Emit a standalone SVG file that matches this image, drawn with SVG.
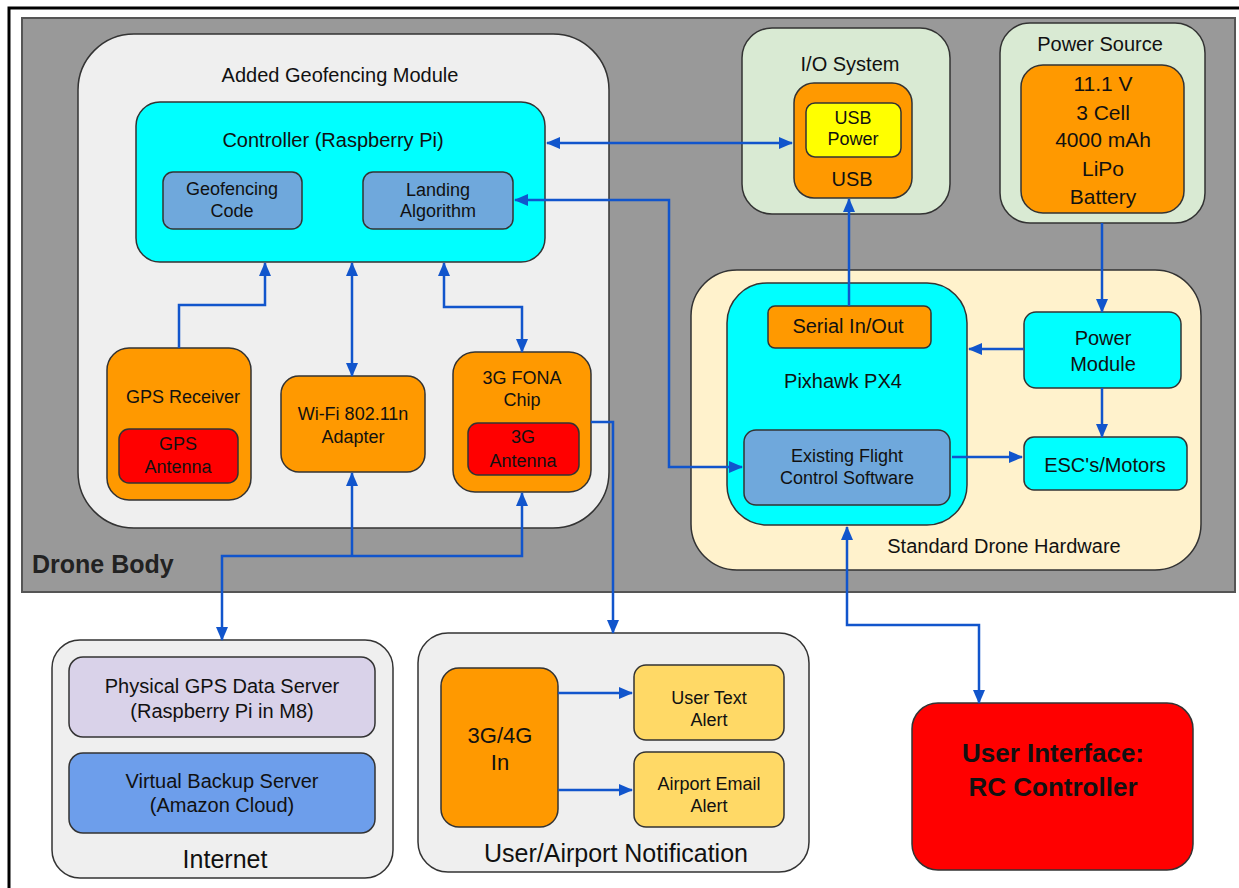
<svg xmlns="http://www.w3.org/2000/svg" width="1239" height="888" viewBox="0 0 1239 888">
<defs>
<marker id="arr" markerUnits="userSpaceOnUse" markerWidth="14" markerHeight="12" viewBox="0 0 14 12" refX="13" refY="6" orient="auto-start-reverse">
<path d="M0,0 L14,6 L0,12 z" fill="#1155cc"/>
</marker>
<style>
text{font-family:"Liberation Sans",Arial,sans-serif;fill:#111;text-anchor:middle;dominant-baseline:central}
.n{stroke:#333;stroke-width:1.5}
.t20{font-size:20px}
.t18{font-size:18px}
.t21{font-size:21px}
.big{font-size:25px}
.c{fill:none;stroke:#1155cc;stroke-width:2.5}
.gray{fill:#efefef}
.cyan{fill:#00ffff}
.blue{fill:#6fa8dc}
.orange{fill:#ff9900}
.red{fill:#ff0000}
</style>
</defs>
<rect x="0" y="0" width="1239" height="888" fill="#ffffff"/>
<rect x="9" y="8" width="1240" height="890" fill="none" stroke="#000" stroke-width="3"/>

<g id="drone-body">
<rect x="22" y="18" width="1213" height="574" fill="#999999" stroke="#555" stroke-width="2"/>
<text x="32" y="564" style="font-size:25px;font-weight:bold;text-anchor:start;fill:#222">Drone Body</text>
</g>

<g id="geofencing-module">
<rect x="78" y="34" width="531" height="494" rx="56" class="n gray"/>
<text x="340" y="75" class="t20">Added Geofencing Module</text>
</g>

<g id="controller">
<rect x="136" y="102" width="409" height="160" rx="24" class="n cyan"/>
<text x="333" y="140" class="t20">Controller (Raspberry Pi)</text>
</g>

<g id="geofencing-code">
<rect x="163" y="172" width="139" height="57" rx="10" class="n blue"/>
<text x="232" y="189" class="t18">Geofencing</text>
<text x="232" y="211" class="t18">Code</text>
</g>

<g id="landing-algorithm">
<rect x="363" y="172" width="150" height="57" rx="10" class="n blue"/>
<text x="438" y="190" class="t18">Landing</text>
<text x="438" y="211" class="t18">Algorithm</text>
</g>

<g id="gps-receiver">
<rect x="107" y="348" width="144" height="152" rx="22" class="n orange"/>
<text x="183" y="397" class="t18">GPS Receiver</text>
</g>
<g id="gps-antenna">
<rect x="119" y="429" width="119" height="54" rx="10" class="n red"/>
<text x="178" y="444" class="t18">GPS</text>
<text x="178" y="467" class="t18">Antenna</text>
</g>

<g id="wifi-adapter">
<rect x="281" y="376" width="144" height="96" rx="18" class="n orange"/>
<text x="353" y="414" class="t18">Wi-Fi 802.11n</text>
<text x="353" y="437" class="t18">Adapter</text>
</g>

<g id="fona-chip">
<rect x="453" y="352" width="138" height="140" rx="22" class="n orange"/>
<text x="522" y="378" class="t18">3G FONA</text>
<text x="522" y="400" class="t18">Chip</text>
</g>
<g id="3g-antenna">
<rect x="468" y="423" width="111" height="52" rx="10" class="n red"/>
<text x="523" y="437" class="t18">3G</text>
<text x="523" y="461" class="t18">Antenna</text>
</g>

<g id="io-system">
<rect x="742" y="28" width="208" height="186" rx="30" class="n" fill="#d9ead3"/>
<text x="850" y="64" class="t20">I/O System</text>
</g>
<g id="usb">
<rect x="794" y="83" width="118" height="115" rx="20" class="n orange"/>
<text x="852" y="179" class="t20">USB</text>
</g>
<g id="usb-power">
<rect x="806" y="103" width="95" height="54" rx="9" class="n" fill="#ffff00"/>
<text x="853" y="118" class="t18">USB</text>
<text x="853" y="139" class="t18">Power</text>
</g>

<g id="power-source">
<rect x="1000" y="23" width="205" height="200" rx="30" class="n" fill="#d9ead3"/>
<text x="1100" y="44" class="t20">Power Source</text>
</g>
<g id="battery">
<rect x="1021" y="65" width="163" height="148" rx="22" class="n orange"/>
<text x="1103" y="83" class="t21">11.1 V</text>
<text x="1103" y="112" class="t21">3 Cell</text>
<text x="1103" y="139" class="t21">4000 mAh</text>
<text x="1103" y="168" class="t21">LiPo</text>
<text x="1103" y="196" class="t21">Battery</text>
</g>

<g id="standard-hardware">
<rect x="691" y="270" width="510" height="300" rx="46" class="n" fill="#fff2cc"/>
<text x="1004" y="546" class="t20">Standard Drone Hardware</text>
</g>
<g id="pixhawk">
<rect x="727" y="283" width="240" height="242" rx="40" class="n cyan"/>
<text x="843" y="381" class="t20">Pixhawk PX4</text>
</g>
<g id="serial-io">
<rect x="768" y="306" width="163" height="42" rx="7" class="n orange"/>
<text x="848" y="326" class="t20">Serial In/Out</text>
</g>
<g id="flight-software">
<rect x="744" y="430" width="206" height="75" rx="12" class="n blue"/>
<text x="847" y="456" class="t18">Existing Flight</text>
<text x="847" y="478" class="t18">Control Software</text>
</g>
<g id="power-module">
<rect x="1024" y="312" width="157" height="76" rx="12" class="n cyan"/>
<text x="1103" y="338" class="t20">Power</text>
<text x="1103" y="364" class="t20">Module</text>
</g>
<g id="esc-motors">
<rect x="1024" y="437" width="163" height="53" rx="10" class="n cyan"/>
<text x="1105" y="465" class="t20">ESC's/Motors</text>
</g>

<g id="internet">
<rect x="52" y="640" width="341" height="238" rx="28" class="n gray"/>
<text x="225" y="859" class="big">Internet</text>
</g>
<g id="gps-data-server">
<rect x="69" y="657" width="306" height="80" rx="14" class="n" fill="#d9d2e9"/>
<text x="222" y="686" class="t20">Physical GPS Data Server</text>
<text x="222" y="711" class="t20">(Raspberry Pi in M8)</text>
</g>
<g id="backup-server">
<rect x="69" y="753" width="306" height="80" rx="14" class="n" fill="#6d9eeb"/>
<text x="222" y="781" class="t20">Virtual Backup Server</text>
<text x="222" y="805" class="t20">(Amazon Cloud)</text>
</g>

<g id="notification">
<rect x="418" y="633" width="391" height="239" rx="30" class="n gray"/>
<text x="616" y="853" class="big">User/Airport Notification</text>
</g>
<g id="3g4g-in">
<rect x="441" y="668" width="117" height="159" rx="18" class="n orange"/>
<text x="500" y="735" style="font-size:22px">3G/4G</text>
<text x="500" y="762" style="font-size:22px">In</text>
</g>
<g id="user-text-alert">
<rect x="634" y="665" width="150" height="75" rx="12" class="n" fill="#ffd966"/>
<text x="709" y="698" class="t18">User Text</text>
<text x="709" y="720" class="t18">Alert</text>
</g>
<g id="airport-email-alert">
<rect x="634" y="752" width="150" height="75" rx="12" class="n" fill="#ffd966"/>
<text x="709" y="784" class="t18">Airport Email</text>
<text x="709" y="806" class="t18">Alert</text>
</g>

<g id="rc-controller">
<rect x="912" y="703" width="281" height="167" rx="26" class="n red"/>
<text x="1053" y="753" style="font-size:26px;font-weight:bold">User Interface:</text>
<text x="1053" y="787" style="font-size:26px;font-weight:bold">RC Controller</text>
</g>

<g id="connectors">
<path class="c" d="M547,143 H792" marker-start="url(#arr)" marker-end="url(#arr)"/>
<path class="c" d="M515,200 H669 V467 H742" marker-start="url(#arr)" marker-end="url(#arr)"/>
<path class="c" d="M849,306 V199" marker-end="url(#arr)"/>
<path class="c" d="M1102,223 V312" marker-end="url(#arr)"/>
<path class="c" d="M1024,349 H969" marker-end="url(#arr)"/>
<path class="c" d="M1102,388 V437" marker-end="url(#arr)"/>
<path class="c" d="M952,457 H1022" marker-end="url(#arr)"/>
<path class="c" d="M179,348 V305 H265 V263" marker-end="url(#arr)"/>
<path class="c" d="M352,263 V376" marker-start="url(#arr)" marker-end="url(#arr)"/>
<path class="c" d="M444,263 V307 H522 V352" marker-start="url(#arr)" marker-end="url(#arr)"/>
<path class="c" d="M222,640 V556 H522 V493" marker-start="url(#arr)" marker-end="url(#arr)"/>
<path class="c" d="M352,556 V473" marker-end="url(#arr)"/>
<path class="c" d="M591,422 H613 V633" marker-end="url(#arr)"/>
<path class="c" d="M558,693 H632" marker-end="url(#arr)"/>
<path class="c" d="M558,790 H632" marker-end="url(#arr)"/>
<path class="c" d="M847,527 V625 H979 V703" marker-start="url(#arr)" marker-end="url(#arr)"/>
</g>
</svg>
